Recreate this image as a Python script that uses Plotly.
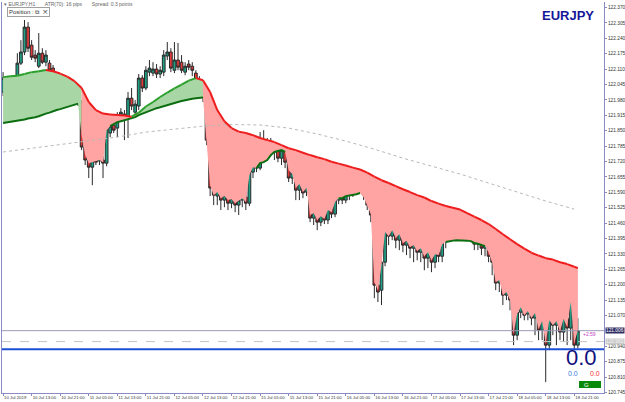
import plotly.graph_objects as go

# ---------------- DATA ----------------
open_ = [122.013,122.063,122.013,122.008,122.021,122.135,122.182,122.287,122.211,122.169,
         122.122,122.177,122.139,122.135,122.114,122.063,122.017,122.013,122.034,122.017,
         122.021,121.979,121.966,121.781,121.726,121.696,121.734,121.722,121.726,121.713,
         121.840,121.873,121.861,121.907,121.920,121.903,121.987,121.928,121.954,122.072,
         122.030,122.097,122.093,122.110,122.089,122.097,122.165,122.182,122.105,122.148,
         122.139,122.097,122.131,122.122,122.093,122.063,122.038,121.992,121.810,121.608,
         121.574,121.591,121.557,121.574,121.544,121.565,121.536,121.557,121.570,121.544,
         121.675,121.705,121.692,121.810,121.768,121.785,121.760,121.776,121.734,121.768,
         121.717,121.650,121.675,121.599,121.629,121.591,121.616,121.481,121.506,121.464,
         121.494,121.473,121.523,121.498,121.557,121.570,121.557,121.599,121.587,121.633,
         121.641,121.620,121.578,121.536,121.494,121.198,121.177,121.295,121.439,121.405,
         121.447,121.388,121.422,121.367,121.388,121.354,121.371,121.337,121.363,121.312,
         121.346,121.295,121.337,121.320,121.388,121.397,121.464,121.447,121.473,121.447,
         121.464,121.422,121.439,121.371,121.405,121.354,121.380,121.320,121.295,121.207,
         121.219,121.156,121.177,121.135,120.987,121.084,121.114,121.076,121.092,121.059,
         121.084,121.008,121.050,120.945,121.059,121.029,121.050,121.000,121.059,121.017,
         121.135,120.945]
high = [122.097,122.080,122.046,122.042,122.177,122.232,122.317,122.308,122.232,122.190,
        122.262,122.198,122.190,122.148,122.127,122.080,122.038,122.042,122.046,122.038,
        122.034,121.992,121.979,121.798,121.738,121.747,121.747,121.743,121.743,121.886,
        121.886,121.890,121.928,121.945,121.937,122.013,122.030,121.979,122.089,122.084,
        122.122,122.148,122.139,122.131,122.122,122.190,122.224,122.198,122.224,122.220,
        122.169,122.139,122.148,122.139,122.105,122.080,122.055,122.013,121.831,121.641,
        121.620,121.608,121.599,121.599,121.591,121.578,121.587,121.599,121.591,121.692,
        121.726,121.734,121.844,121.852,121.819,121.819,121.802,121.793,121.789,121.785,
        121.734,121.700,121.692,121.650,121.650,121.641,121.629,121.532,121.523,121.515,
        121.515,121.540,121.540,121.578,121.599,121.599,121.620,121.629,121.662,121.683,
        121.675,121.650,121.599,121.565,121.515,121.261,121.325,121.464,121.464,121.473,
        121.464,121.439,121.439,121.409,121.405,121.396,121.388,121.388,121.380,121.371,
        121.367,121.363,121.363,121.405,121.439,121.481,121.494,121.494,121.498,121.489,
        121.481,121.473,121.456,121.430,121.422,121.405,121.397,121.346,121.312,121.261,
        121.236,121.211,121.194,121.152,121.114,121.143,121.135,121.135,121.114,121.110,
        121.101,121.084,121.135,121.084,121.092,121.084,121.071,121.092,121.135,121.143,
        121.143,121.059]
low = [121.996,122.000,121.996,121.992,122.013,122.127,122.169,122.182,122.148,122.139,
       122.114,122.131,122.122,122.093,121.979,122.000,122.000,122.000,122.004,122.004,
       121.962,121.954,121.768,121.705,121.650,121.620,121.705,121.705,121.650,121.700,
       121.823,121.840,121.823,121.895,121.810,121.819,121.937,121.911,121.937,122.013,
       122.021,122.080,122.080,122.072,122.072,122.080,122.148,122.097,122.093,122.105,
       122.093,122.084,122.105,122.080,121.987,122.021,121.971,121.789,121.574,121.536,
       121.536,121.515,121.527,121.515,121.523,121.506,121.494,121.527,121.515,121.532,
       121.650,121.675,121.683,121.747,121.734,121.743,121.726,121.717,121.705,121.692,
       121.633,121.625,121.557,121.557,121.565,121.574,121.464,121.452,121.430,121.447,
       121.456,121.456,121.481,121.485,121.540,121.540,121.544,121.557,121.570,121.608,
       121.599,121.557,121.515,121.464,121.143,121.127,121.114,121.278,121.367,121.388,
       121.354,121.346,121.337,121.325,121.312,121.295,121.303,121.295,121.261,121.270,
       121.253,121.270,121.295,121.295,121.354,121.380,121.422,121.422,121.413,121.405,
       121.388,121.397,121.346,121.346,121.325,121.320,121.295,121.240,121.177,121.169,
       121.114,121.135,121.092,120.945,120.966,121.059,121.050,121.050,121.029,120.987,
       120.966,120.966,120.789,120.924,120.987,120.945,120.966,120.958,120.945,120.966,
       120.924,120.932]
close = [122.072,122.021,122.034,122.030,122.135,122.182,122.287,122.198,122.160,122.156,
         122.177,122.139,122.169,122.105,122.063,122.013,122.025,122.030,122.021,122.030,
         121.979,121.971,121.781,121.726,121.696,121.726,121.717,121.734,121.713,121.865,
         121.869,121.852,121.907,121.928,121.895,121.987,121.954,121.962,122.072,122.030,
         122.105,122.114,122.110,122.089,122.105,122.169,122.182,122.114,122.148,122.118,
         122.105,122.122,122.118,122.105,122.030,122.042,121.992,121.810,121.608,121.578,
         121.599,121.557,121.578,121.544,121.565,121.536,121.557,121.574,121.544,121.675,
         121.705,121.692,121.810,121.768,121.789,121.760,121.776,121.734,121.768,121.717,
         121.650,121.675,121.599,121.633,121.587,121.620,121.481,121.506,121.464,121.494,
         121.473,121.523,121.498,121.557,121.574,121.557,121.599,121.578,121.633,121.650,
         121.620,121.578,121.536,121.494,121.198,121.169,121.295,121.439,121.405,121.447,
         121.388,121.422,121.367,121.388,121.354,121.371,121.337,121.363,121.312,121.346,
         121.295,121.337,121.320,121.388,121.405,121.464,121.439,121.473,121.447,121.464,
         121.422,121.447,121.371,121.405,121.354,121.380,121.320,121.295,121.207,121.228,
         121.156,121.177,121.135,120.987,121.084,121.114,121.071,121.092,121.059,121.084,
         121.008,121.050,120.945,121.059,121.029,121.050,121.000,121.059,121.017,121.135,
         120.945,121.006]

# upper moving average (sampled every 2 bars + last bar)
upper_idx = list(range(0, 161, 2)) + [161]
upper_ma = [122.076,122.080,122.082,122.089,122.097,122.101,122.106,122.101,122.091,122.078,
            122.059,122.030,121.971,121.937,121.922,121.918,121.916,121.914,121.909,121.926,
            121.952,121.971,121.992,122.011,122.028,122.044,122.061,122.072,122.063,122.013,
            121.937,121.890,121.861,121.846,121.840,121.831,121.819,121.810,121.802,121.789,
            121.776,121.768,121.757,121.747,121.738,121.730,121.719,121.711,121.703,121.694,
            121.686,121.673,121.656,121.641,121.629,121.616,121.603,121.591,121.578,121.568,
            121.553,121.542,121.532,121.525,121.517,121.502,121.487,121.473,121.456,121.435,
            121.413,121.392,121.371,121.352,121.335,121.323,121.312,121.306,121.295,121.287,
            121.276,121.270]
# lower line (every bar)
lower_ma = [121.882,121.884,121.886,121.888,121.890,121.895,121.897,121.901,121.903,121.907,
            121.911,121.918,121.922,121.926,121.933,121.937,121.941,121.945,121.949,121.954,
            121.958,121.964,121.831,121.747,121.713,121.717,121.722,121.726,121.717,121.852,
            121.869,121.878,121.886,121.890,121.895,121.899,121.903,121.907,121.916,121.922,
            121.928,121.935,121.941,121.945,121.949,121.954,121.958,121.962,121.966,121.971,
            121.975,121.979,121.983,121.985,121.987,121.990,121.990,121.819,121.620,121.578,
            121.591,121.565,121.574,121.557,121.561,121.544,121.553,121.565,121.549,121.663,
            121.696,121.692,121.713,121.717,121.726,121.747,121.760,121.764,121.768,121.760,
            121.683,121.667,121.608,121.625,121.591,121.608,121.494,121.502,121.473,121.489,
            121.477,121.515,121.506,121.549,121.565,121.565,121.574,121.576,121.578,121.582,
            121.587,121.570,121.536,121.498,121.211,121.177,121.283,121.422,121.405,121.430,
            121.397,121.413,121.376,121.384,121.359,121.367,121.342,121.354,121.320,121.337,
            121.303,121.329,121.325,121.371,121.380,121.384,121.386,121.388,121.388,121.388,
            121.386,121.384,121.376,121.373,121.367,121.363,121.337,121.295,121.211,121.219,
            121.156,121.169,121.135,120.996,121.076,121.105,121.071,121.088,121.059,121.080,
            121.013,121.046,120.954,121.050,121.029,121.046,121.004,121.055,121.021,121.127,
            120.954,121.008]
# slow dotted average (every 8 bars)
slow_idx = list(range(0, 161, 8))
slow_ma = [121.760,121.776,121.789,121.806,121.823,121.844,121.857,121.869,121.876,121.874,
           121.861,121.836,121.806,121.772,121.734,121.700,121.667,121.629,121.591,121.553,
           121.519]

green_zones = [(0, 22), (38, 56)]
red_zones = [(22, 38), (56, 161)]
dark_segments = [(0, 21), (30, 56), (71, 79), (94, 100), (124, 135)]

x_tick_bars = list(range(0, 161, 8))
x_tick_labels = ["10 Jul 2019", "10 Jul 13:00", "10 Jul 21:00", "11 Jul 05:00", "11 Jul 13:00",
                 "11 Jul 21:00", "12 Jul 05:00", "12 Jul 13:00", "12 Jul 21:00", "15 Jul 05:00",
                 "15 Jul 13:00", "15 Jul 21:00", "16 Jul 05:00", "16 Jul 13:00", "16 Jul 21:00",
                 "17 Jul 05:00", "17 Jul 13:00", "17 Jul 21:00", "18 Jul 05:00", "18 Jul 13:00",
                 "18 Jul 21:00"]
# 121.005 is hidden under the bid price box in the reference
y_tick_values = [122.370, 122.305, 122.240, 122.175, 122.110, 122.045, 121.980, 121.915,
                 121.850, 121.785, 121.720, 121.655, 121.590, 121.525, 121.460, 121.395,
                 121.330, 121.265, 121.200, 121.135, 121.070, 120.940, 120.875, 120.810,
                 120.745]
y_tick_labels = ["%.3f" % v for v in y_tick_values]

bid_price = 121.006
ask_line_price = 120.960
blue_level = 120.928

# ---------------- FIGURE ----------------
W, H = 625, 402
ML, MR, MT, MB = 2, 21, 2, 9
PW, PH = W - ML - MR, H - MT - MB
AX = "#8a8ac4"


def px(xp):
    return (xp - ML) / PW


def py(yp):
    return (H - MB - yp) / PH


bars = list(range(len(close)))
fig = go.Figure()


def zone_poly(a, b):
    ux = [i for i in upper_idx if a <= i <= b]
    uy = [upper_ma[upper_idx.index(i)] for i in ux]
    lx = [i for i in bars if a <= i <= b][::-1]
    ly = [lower_ma[i] for i in lx]
    return ux + lx, uy + ly


for a, b in green_zones:
    xs, ys = zone_poly(a, b)
    fig.add_trace(go.Scatter(x=xs, y=ys, fill="toself", fillcolor="#a9d6a5",
                             line=dict(width=0), mode="lines", hoverinfo="skip"))
for a, b in red_zones:
    xs, ys = zone_poly(a, b)
    fig.add_trace(go.Scatter(x=xs, y=ys, fill="toself", fillcolor="#ffa3a3",
                             line=dict(width=0), mode="lines", hoverinfo="skip"))

fig.add_trace(go.Scatter(x=slow_idx, y=slow_ma, mode="lines",
                         line=dict(color="#b8b8b8", width=1, dash="dot"), hoverinfo="skip"))

for a, b in dark_segments:
    xs = [i for i in bars if a <= i <= b]
    fig.add_trace(go.Scatter(x=xs, y=[lower_ma[i] for i in xs], mode="lines",
                             line=dict(color="#0b6e10", width=2), hoverinfo="skip"))

gx, gy, rx, ry = [], [], [], []
for k in range(len(upper_idx) - 1):
    x0, x1 = upper_idx[k], upper_idx[k + 1]
    y0, y1 = upper_ma[k], upper_ma[k + 1]
    if y1 >= y0:
        gx += [x0, x1, None]; gy += [y0, y1, None]
    else:
        rx += [x0, x1, None]; ry += [y0, y1, None]
fig.add_trace(go.Scatter(x=gx, y=gy, mode="lines", line=dict(color="#2ca02c", width=2),
                         hoverinfo="skip"))
fig.add_trace(go.Scatter(x=rx, y=ry, mode="lines", line=dict(color="#ee1c1c", width=2),
                         hoverinfo="skip"))

fig.add_trace(go.Candlestick(
    x=bars, open=open_, high=high, low=low, close=close,
    increasing=dict(line=dict(color="#2a2a2a", width=1), fillcolor="#1f9f84"),
    decreasing=dict(line=dict(color="#2a2a2a", width=1), fillcolor="#e23a3a"),
    hoverinfo="skip"))

shapes = [
    dict(type="line", xref="paper", x0=0, x1=1, yref="y", y0=bid_price, y1=bid_price,
         line=dict(color="#9a9ab8", width=1)),
    dict(type="line", xref="paper", x0=0, x1=1, yref="y", y0=ask_line_price, y1=ask_line_price,
         line=dict(color="#c4c4c4", width=1, dash="dash")),
    dict(type="line", xref="paper", x0=0, x1=1, yref="y", y0=blue_level, y1=blue_level,
         line=dict(color="#1d4fd6", width=2)),
    dict(type="rect", xref="paper", yref="paper", x0=px(579), x1=px(601), y0=py(388), y1=py(381),
         fillcolor="#0a8a0a", line=dict(width=0)),
]

FONT = "Liberation Sans"
ann = [
    dict(x=px(2), y=py(4), xref="paper", yref="paper", xanchor="left", yanchor="middle",
         text="▾ EURJPY,H1       ATR(70): 16 pips       Spread: 0.3 points", showarrow=False,
         font=dict(family=FONT, size=5, color="#666666")),
    dict(x=px(7), y=py(12), xref="paper", yref="paper", xanchor="left", yanchor="middle",
         text="Position : ⧉  ✕", showarrow=False, bgcolor="#ffffff", bordercolor="#a0a0a0",
         borderwidth=1, borderpad=1, font=dict(family=FONT, size=6, color="#333333")),
    dict(x=px(596), y=py(15), xref="paper", yref="paper", xanchor="right", yanchor="middle",
         text="<b>EURJPY</b>", showarrow=False,
         font=dict(family=FONT, size=13, color="#15159a")),
    dict(x=1, y=bid_price, xref="paper", yref="y", xanchor="left", yanchor="middle", xshift=1,
         text="121.006", showarrow=False, bgcolor="#2e2e64", borderpad=0,
         font=dict(family=FONT, size=4.8, color="#ffffff")),
    dict(x=1, y=ask_line_price, xref="paper", yref="y", xanchor="left", yanchor="middle", xshift=1,
         text="120.960", showarrow=False, bgcolor="#c9c9c9", borderpad=0,
         font=dict(family=FONT, size=4.8, color="#f4f4f4")),
    dict(x=px(598), y=py(334), xref="paper", yref="paper", xanchor="right", yanchor="middle",
         text="+2:59", showarrow=False, font=dict(family=FONT, size=5, color="#c040c0")),
    dict(x=px(581), y=py(357), xref="paper", yref="paper", xanchor="center", yanchor="middle",
         text="0.0", showarrow=False, font=dict(family=FONT, size=22, color="#10107e")),
    dict(x=px(573), y=py(373), xref="paper", yref="paper", xanchor="center", yanchor="middle",
         text="0.0", showarrow=False, font=dict(family=FONT, size=7, color="#3a78d8")),
    dict(x=px(595), y=py(373), xref="paper", yref="paper", xanchor="center", yanchor="middle",
         text="0.0", showarrow=False, font=dict(family=FONT, size=7, color="#ff3333")),
    dict(x=px(582), y=py(384.5), xref="paper", yref="paper", xanchor="left", yanchor="middle",
         text="G", showarrow=False, font=dict(family=FONT, size=6, color="#ffffff")),
]

fig.update_layout(
    width=W, height=H, margin=dict(l=ML, r=MR, t=MT, b=MB, autoexpand=False),
    paper_bgcolor="white", plot_bgcolor="white", showlegend=False, hovermode=False,
    boxgap=0.1, boxgroupgap=0.15,
    shapes=shapes, annotations=ann,
    xaxis=dict(range=[-0.3, -0.3 + PW / 3.57], tickvals=x_tick_bars, ticktext=x_tick_labels,
               tickangle=0, automargin=False,
               ticks="outside", ticklen=2, tickcolor=AX, showline=True, linecolor=AX, linewidth=1,
               showgrid=False, zeroline=False, ticklabelposition="outside right",
               tickfont=dict(family=FONT, size=4.3, color="#333333"),
               rangeslider=dict(visible=False), fixedrange=True),
    yaxis=dict(range=[120.743, 122.393], side="right", tickvals=y_tick_values,
               ticktext=y_tick_labels, ticks="outside", ticklen=2, tickcolor=AX, automargin=False,
               showline=True, linecolor=AX, linewidth=1, mirror=True, showgrid=False,
               zeroline=False, tickfont=dict(family=FONT, size=4.8, color="#333333"),
               fixedrange=True),
)

fig.write_html("out.html")
